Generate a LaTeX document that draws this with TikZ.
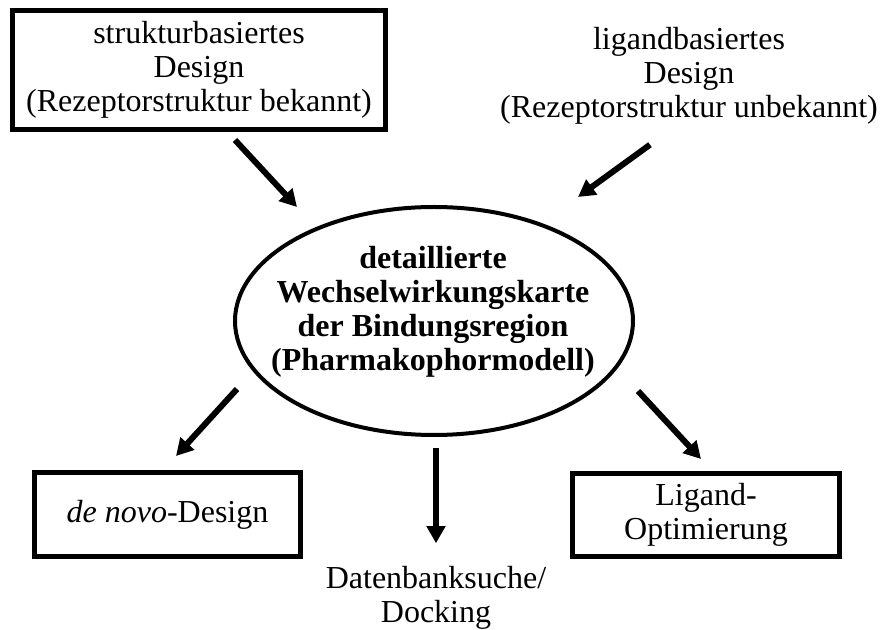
\documentclass[tikz,border=0pt]{standalone}
\usepackage{fontspec}
\setmainfont{Liberation Serif}
\usetikzlibrary{arrows.meta,positioning,calc,shapes.geometric}
\newcommand{\diafont}{\fontsize{32}{34}\selectfont}
\tikzset{
  boxed/.style={draw, line width=5pt, rectangle, align=center, font=\diafont},
  txt/.style={align=center, font=\diafont, inner sep=3pt},
  oval/.style={draw, ellipse, line width=4pt},
  flow/.style={-{Triangle[length=17pt,width=18pt]}, line width=6pt}
}
\begin{document}
\begin{tikzpicture}[x=1pt,y=1pt]
  \useasboundingbox (0,0) rectangle (883,629);
  % top: the two design approaches
  \node[boxed, minimum width=373pt, minimum height=119pt] (struct) at (199,559)
    {strukturbasiertes\\Design\\(Rezeptorstruktur bekannt)};
  \node[txt] (ligand) at (689,553)
    {ligandbasiertes\\Design\\(Rezeptorstruktur unbekannt)};
  % centre: interaction map
  \node[oval, minimum width=398pt, minimum height=228pt] (map) at (434,308) {};
  \node[txt, font=\diafont\bfseries] (maptext) at (433,317)
    {detaillierte\\Wechselwirkungskarte\\der Bindungsregion\\(Pharmakophormodell)};
  % bottom: the three follow-ups
  \node[boxed, minimum width=266pt, minimum height=84pt] (denovo) at (167.5,114.5)
    {\textit{de novo}-Design};
  \node[txt] (dock) at (436,31) {Datenbanksuche/\\Docking};
  \node[boxed, minimum width=267pt, minimum height=83pt] (ligopt) at (706,114)
    {Ligand-\\Optimierung};
  \draw[flow] ($(struct.south)+(36,-8)$) -- ($(map.north)+(-137,-2)$);
  \draw[flow] ($(ligand.south)+(-39,-17)$) -- ($(map.north)+(144,8)$);
  \draw[flow] ($(map.south)+(-197,48)$) -- ($(denovo.north)+(8.5,14)$);
  \draw[flow] ($(map.south)+(2,-11)$) -- ($(dock.north)+(0,20)$);
  \draw[flow] ($(map.south)+(204,46)$) -- ($(ligopt.north)+(-5,12)$);
\end{tikzpicture}
\end{document}
